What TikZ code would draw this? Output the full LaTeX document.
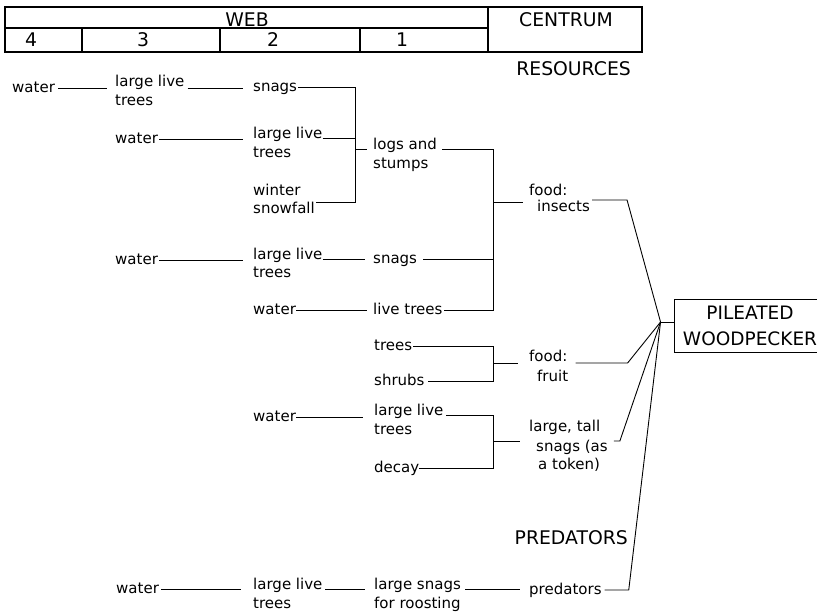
\documentclass[tikz,border=0pt]{standalone}
\usepackage{fontspec}
\newfontfamily\lf{DejaVu Sans}
\usetikzlibrary{calc}
\begin{document}
\begin{tikzpicture}[x=1pt,y=-1pt,
  lbl/.style={font=\lf\fontsize{15}{19}\selectfont, inner sep=0pt, text height=8pt, text depth=0pt, anchor=west},
  captxt/.style={font=\lf\fontsize{18.8}{24}\selectfont, inner sep=0pt},
  ln/.style={line width=0.9pt},
  hd/.style={line width=1.1pt}]
\useasboundingbox (0,0) rectangle (817,613);
% header
\draw[hd] (5,7) rectangle (642,52);
\draw[hd] (5,28) -- (488,28);
\draw[hd] (488,7) -- (488,52);
\foreach \x in {82,220,360} \draw[hd] (\x,28) -- (\x,52);
\node[captxt] (web) at (247,20) {WEB};
\node[captxt] (centrum) at (566,20) {CENTRUM};
\node[captxt] (h4) at (31,40) {4};
\node[captxt] (h3) at (143,40) {3};
\node[captxt] (h2) at (273,40) {2};
\node[captxt] (h1) at (402,40) {1};
\node[captxt,anchor=east] (res) at (631,69) {RESOURCES};
\node[captxt,anchor=east] (pred) at (628,538) {PREDATORS};
% target
\node[draw,ln,font=\lf\fontsize{18.5}{26}\selectfont,align=center,inner sep=0pt,
  minimum width=152pt,minimum height=53pt] (pw) at (750,325.5) {PILEATED\\WOODPECKER};
\coordinate (hub) at ([xshift=-13pt,yshift=3.5pt]pw.west);
\coordinate (bxA) at (355,0);
\coordinate (bxB) at (493,0);
% labels
\node[lbl] (w1) at (12,88) {water};
\node[lbl] (llt1a) at (115,82) {large live};
\node[lbl] (llt1b) at (115,101) {trees};
\node[lbl] (sn1) at (253,87) {snags};
\node[lbl] (w2) at (115,139) {water};
\node[lbl] (llt2a) at (253,134) {large live};
\node[lbl] (llt2b) at (253,153) {trees};
\node[lbl] (wsa) at (253,191) {winter};
\node[lbl] (wsb) at (253,209) {snowfall};
\node[lbl] (logsa) at (373,145) {logs and};
\node[lbl] (logsb) at (373,164) {stumps};
\node[lbl] (w3) at (115,260) {water};
\node[lbl] (llt3a) at (253,255) {large live};
\node[lbl] (llt3b) at (253,273) {trees};
\node[lbl] (sn2) at (373,259) {snags};
\node[lbl] (w4) at (253,310) {water};
\node[lbl] (lt) at (373,310) {live trees};
\node[lbl] (fia) at (529,191) {food:};
\node[lbl] (fib) at (537,207) {insects};
\node[lbl] (tr) at (374,346) {trees};
\node[lbl] (sh) at (374,381) {shrubs};
\node[lbl] (ffa) at (529,357) {food:};
\node[lbl] (ffb) at (537,377) {fruit};
\node[lbl] (w5) at (253,417) {water};
\node[lbl] (llt4a) at (374,411) {large live};
\node[lbl] (llt4b) at (374,430) {trees};
\node[lbl] (dc) at (374,468) {decay};
\node[lbl] (lta) at (529,427) {large, tall};
\node[lbl] (ltb) at (536,447) {snags (as};
\node[lbl] (ltc) at (538,465) {a token)};
\node[lbl] (wb) at (116,589) {water};
\node[lbl] (lltba) at (253,585) {large live};
\node[lbl] (lltbb) at (253,604) {trees};
\node[lbl] (lsa) at (374,585) {large snags};
\node[lbl] (lsb) at (374,604) {for roosting};
\node[lbl] (pr) at (529,590) {predators};
% helper points
\coordinate (wsl) at ([xshift=1pt,yshift=7pt]wsb.east);
\coordinate (mF) at ($(bxB |- tr.east)!0.5!(bxB |- sh.east)$);
\coordinate (mT) at ($(bxB |- llt4a.base east)!0.5!(bxB |- dc.east)$);
% connectors: row 1
\draw[ln] ([xshift=3pt]w1.east) -- ([xshift=-8pt]w1.east -| llt1a.west);
\draw[ln] ([xshift=3pt]llt1a.east |- w1.east) -- ([xshift=-10pt]sn1.west |- w1.east);
\draw[ln] ([xshift=1pt]sn1.east) -- (bxA |- sn1.east) -- (bxA |- wsl) -- (wsl);
\draw[ln] ([xshift=1pt]w2.east) -- ([xshift=-10pt]w2.east -| llt2a.west);
\draw[ln] (llt2a.base east) -- (bxA |- llt2a.base east);
\draw[ln] (bxA |- logsa.base west) -- ([xshift=-6pt]logsa.base west);
% big bracket for insects
\draw[ln] ([xshift=5pt]logsa.base east) -- (bxB |- logsa.base east) -- (bxB |- lt.east) -- ([xshift=1.5pt]lt.east);
\draw[ln] ([xshift=6pt]sn2.east) -- (bxB |- sn2.east);
\draw[ln] (bxB |- fib.north) -- ([xshift=-6pt]fia.west |- fib.north);
\draw[ln] ([xshift=1pt]w3.east) -- ([xshift=-10pt]w3.east -| llt3a.west);
\draw[ln] (llt3a.base east) -- ([xshift=-8pt]sn2.west);
\draw[ln] (w4.east) -- ([xshift=-6pt]lt.west);
\draw[ln] ([xshift=2pt,yshift=7pt]fib.east) -- ++(35,0) -- (hub);
% fruit
\draw[ln] ([xshift=1pt]tr.east) -- (bxB |- tr.east) -- (bxB |- sh.east) -- ([xshift=3pt]sh.east);
\draw[ln] (mF) -- ([xshift=-11pt]ffa.west |- mF);
\draw[ln] ([xshift=8pt,yshift=-6pt]ffa.east) -- ++(52,0) -- (hub);
% large tall snags
\draw[ln] (w5.east) -- ([xshift=-11pt]w5.east -| llt4a.west);
\draw[ln] ([xshift=2.5pt]llt4a.base east) -- (bxB |- llt4a.base east) -- (bxB |- dc.east) -- (dc.east);
\draw[ln] (mT) -- ([xshift=-9pt]lta.west |- mT);
\draw[ln] ([xshift=6pt,yshift=6pt]ltb.east) -- ++(6,0) -- (hub);
% predators
\draw[ln] ([xshift=2pt]wb.east) -- ([xshift=-12pt]wb.east -| lltba.west);
\draw[ln] ([xshift=2.5pt]lltba.base east) -- ([xshift=-9pt]lltba.base east -| lsa.west);
\draw[ln] ([xshift=4pt]lsa.base east) -- ([xshift=-9pt]lsa.base east -| pr.west);
\draw[ln] ([xshift=3pt]pr.east) -- ++(24,0) -- (hub);
% hub to target
\draw[ln] (hub) -- (hub -| pw.west);
\end{tikzpicture}
\end{document}
